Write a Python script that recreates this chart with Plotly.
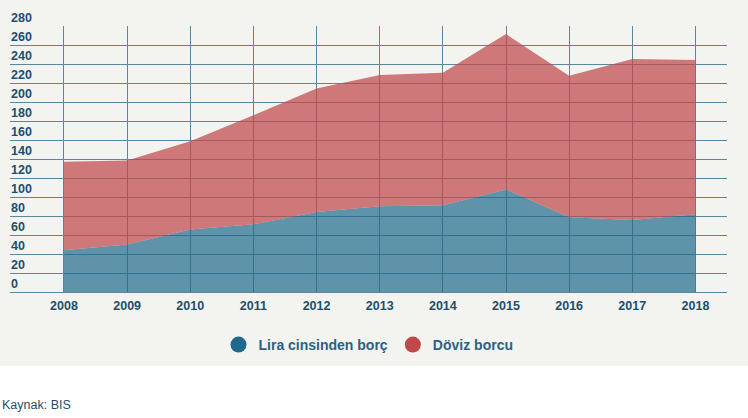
import plotly.graph_objects as go

years = [2008, 2009, 2010, 2011, 2012, 2013, 2014, 2015, 2016, 2017, 2018]
lira = [44, 50, 65.7, 71.3, 84.3, 90.3, 91.4, 108, 78.7, 75.9, 81.9]
doviz = [93, 88.5, 93, 114.7, 130, 138, 139.4, 163.5, 149, 169.3, 162.3]
y_ticks = [0, 20, 40, 60, 80, 100, 120, 140, 160, 180, 200, 220, 240, 260, 280]
series_names = ["Lira cinsinden borç", "Döviz borcu"]

BLUE = "#1e6a8c"
RED = "#c0484b"
TXT = "#1d4e6c"
GRID = "#5b869c"
FONT = "Liberation Sans Narrow, Liberation Sans, Arial"

fig = go.Figure()
fig.add_trace(go.Scatter(x=years, y=lira, stackgroup="s", mode="none",
                         fillcolor="rgba(30,106,140,0.70)", line=dict(width=0),
                         showlegend=False, hoverinfo="skip"))
fig.add_trace(go.Scatter(x=years, y=doviz, stackgroup="s", mode="none",
                         fillcolor="rgba(192,72,75,0.72)", line=dict(width=0),
                         showlegend=False, hoverinfo="skip"))
for name, col in zip(series_names, [BLUE, RED]):
    fig.add_trace(go.Scatter(x=[None], y=[None], mode="markers", name=name,
                             marker=dict(color=col, size=16, symbol="circle")))

W, H = 748, 418
ml, mr, mt, mb = 10, 21, 26, 126
pw, ph = W - ml - mr, H - mt - mb

def px(x):
    return (x - ml) / pw

def py(y):
    return (H - mb - y) / ph

annotations = [dict(text=str(v), xref="paper", yref="y", x=px(9), y=v,
                    xanchor="left", yanchor="bottom", showarrow=False, yshift=-1,
                    font=dict(family=FONT, size=12.5, color=TXT, weight="bold"))
               for v in y_ticks]
annotations.append(dict(text="Kaynak: BIS", xref="paper", yref="paper", x=px(0), y=py(405),
                        xanchor="left", yanchor="middle", showarrow=False,
                        font=dict(family="Liberation Sans, Arial", size=12.5, color=TXT)))

fig.update_layout(
    width=W, height=H,
    margin=dict(l=ml, r=mr, t=mt, b=mb),
    paper_bgcolor="white",
    plot_bgcolor="rgba(0,0,0,0)",
    font=dict(family=FONT, color=TXT),
    shapes=[dict(type="rect", xref="paper", yref="paper", layer="below",
                 x0=px(0), x1=px(W), y0=py(366), y1=py(0),
                 fillcolor="#f3f3ef", line=dict(width=0))],
    xaxis=dict(range=[2007.145, 2018.5], tickvals=years, showgrid=True,
               gridcolor=GRID, gridwidth=1, zeroline=False, showline=False,
               ticks="", ticklabelstandoff=4,
               tickfont=dict(family=FONT, size=12.5, color=TXT, weight="bold")),
    yaxis=dict(range=[0, 280], tickvals=y_ticks, showgrid=True, gridcolor=GRID,
               gridwidth=1, zeroline=True, zerolinecolor=GRID, zerolinewidth=1,
               showline=False, ticks="", showticklabels=False),
    legend=dict(orientation="h", x=0.5, xanchor="center", y=py(345), yanchor="middle",
                traceorder="normal",
                font=dict(family=FONT, size=14, color="#2a6283", weight="bold"),
                bgcolor="rgba(0,0,0,0)", itemclick=False),
    annotations=annotations,
)

fig.write_html("out.html")
